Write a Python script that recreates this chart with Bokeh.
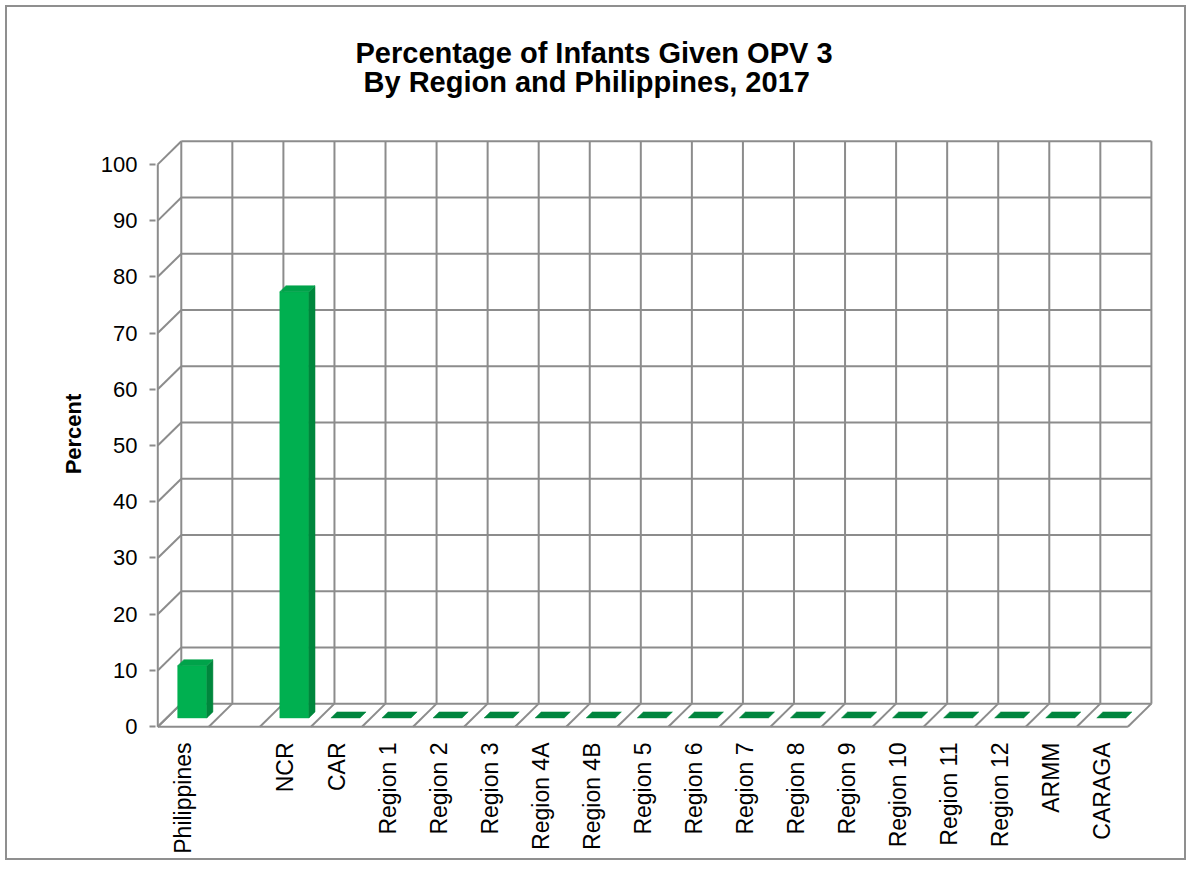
import math
from bokeh.plotting import figure
from bokeh.models import Range1d, FixedTicker, Title
from bokeh.embed import file_html
from bokeh.resources import INLINE

# ---------------- data ----------------
categories = ["Philippines", "", "NCR", "CAR", "Region 1", "Region 2", "Region 3",
              "Region 4A", "Region 4B", "Region 5", "Region 6", "Region 7", "Region 8",
              "Region 9", "Region 10", "Region 11", "Region 12", "ARMM", "CARAGA"]
values = [9.3, None, 75.8, 0, 0, 0, 0, 0, 0, 0, 0, 0, 0, 0, 0, 0, 0, 0, 0]
y_ticks = [0, 10, 20, 30, 40, 50, 60, 70, 80, 90, 100]
title_line1 = "Percentage of Infants Given OPV 3"
title_line2 = "By Region and Philippines, 2017"
y_label = "Percent"

# ---------------- style / geometry ----------------
FONT = "Liberation Sans"
GRID = "#8c8c8c"
DX, DY = 0.46, 4.1          # depth offset of the back wall (data units)
F0, F1 = 0.38, 0.64         # bar depth (fraction of full depth)
HW = 0.285                  # half bar width
N = len(categories)
YMAX = y_ticks[-1]

p = figure(width=1181, height=855, output_backend="svg", toolbar_location=None,
           x_range=Range1d(-0.045, N + DX + 0.1), y_range=Range1d(-0.5, YMAX + DY + 0.5),
           min_border_left=148, min_border_right=32, min_border_top=131, min_border_bottom=133,
           background_fill_color="white", border_fill_color="white",
           styles={"border": "2px solid #8f8f8f", "margin-left": "5px", "margin-top": "5px"})
p.outline_line_color = None
p.xgrid.visible = False
p.ygrid.visible = False

# titles (added nearest-first): spacer, line 2, line 1
p.add_layout(Title(text="\u00a0", standoff=37, text_font_size="2px", text_color="white"), "above")
p.add_layout(Title(text=title_line2, align="left", offset=208, standoff=0,
                   text_font=FONT, text_font_size="29px", text_font_style="bold",
                   text_color="black"), "above")
p.add_layout(Title(text=title_line1, align="left", offset=200, standoff=-10,
                   text_font=FONT, text_font_size="29px", text_font_style="bold",
                   text_color="black"), "above")

# ---------------- 3D frame (walls & floor) ----------------
x0, y0, x1, y1 = [], [], [], []
for v in y_ticks:
    x0.append(DX); y0.append(v + DY); x1.append(N + DX); y1.append(v + DY)
    x0.append(0); y0.append(v); x1.append(DX); y1.append(v + DY)
for k in range(N + 1):
    x0.append(k + DX); y0.append(DY); x1.append(k + DX); y1.append(YMAX + DY)
    x0.append(k); y0.append(0); x1.append(k + DX); y1.append(DY)
x0 += [0, 0]; y0 += [0, 0]; x1 += [0, N]; y1 += [YMAX, 0]
p.segment(x0=x0, y0=y0, x1=x1, y1=y1, line_color=GRID, line_width=2)

# ---------------- bars ----------------
fl, fr, fb, ft = [], [], [], []
sxs, sys_ = [], []
txs, tys, tcol = [], [], []
for i, v in enumerate(values):
    if v is None:
        continue
    c = i + 0.5
    a0x, a0y = F0 * DX, F0 * DY
    a1x, a1y = F1 * DX, F1 * DY
    L, R = c - HW, c + HW
    if v > 0:
        fl.append(L + a0x); fr.append(R + a0x); fb.append(a0y); ft.append(v + a0y)
        sxs.append([R + a0x, R + a1x, R + a1x, R + a0x])
        sys_.append([a0y, a1y, v + a1y, v + a0y])
    txs.append([L + a0x, R + a0x, R + a1x, L + a1x])
    tys.append([v + a0y, v + a0y, v + a1y, v + a1y])
    tcol.append("#00a34a" if v > 0 else "#00853e")

p.quad(left=fl, right=fr, bottom=fb, top=ft, fill_color="#00b050", line_color="#00b050", line_width=0.5)
p.patches(xs=sxs, ys=sys_, fill_color="#00873d", line_color="#00873d", line_width=0.5)
p.patches(xs=txs, ys=tys, fill_color=tcol, line_color=tcol, line_width=0.5)

# ---------------- axes ----------------
ya = p.yaxis[0]
ya.ticker = FixedTicker(ticks=y_ticks)
ya.axis_line_color = None
ya.major_tick_line_color = GRID
ya.major_tick_line_width = 2
ya.major_tick_out = 6
ya.major_tick_in = 0
ya.minor_tick_line_color = None
ya.major_label_standoff = 12
ya.major_label_text_font = FONT
ya.major_label_text_font_size = "22px"
ya.major_label_text_color = "black"
ya.axis_label = y_label
ya.axis_label_text_font = FONT
ya.axis_label_text_font_size = "22px"
ya.axis_label_text_font_style = "bold"
ya.axis_label_text_color = "black"
ya.axis_label_standoff = 12

xa = p.xaxis[0]
tick_pos = [i + 0.5 for i, c in enumerate(categories) if c]
xa.ticker = FixedTicker(ticks=tick_pos)
xa.major_label_overrides = {i + 0.5: c for i, c in enumerate(categories) if c}
xa.major_label_orientation = math.pi / 2
xa.axis_line_color = None
xa.major_tick_line_color = None
xa.minor_tick_line_color = None
xa.major_label_standoff = 7
xa.major_label_text_font = FONT
xa.major_label_text_font_size = "23px"
xa.major_label_text_color = "black"

open("out.html", "w").write(file_html(p, INLINE))
